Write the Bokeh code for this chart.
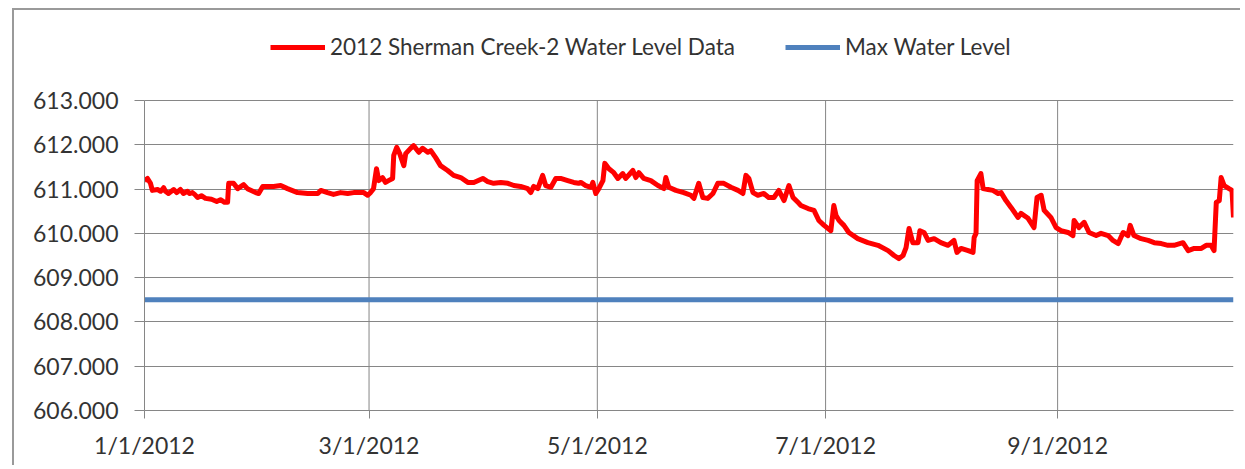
import pandas as pd
from bokeh.plotting import figure
from bokeh.models import FixedTicker, NumeralTickFormatter, Range1d, Legend, LegendItem
from bokeh.embed import file_html
from bokeh.resources import INLINE

# ---------------- data ----------------
START_DATE = "2012-01-01"

# days elapsed since START_DATE for each logged reading
day_offset = [
    0, 0.8, 1.6, 2.1, 3.5, 4.3, 5.1, 5.6, 6.4, 7.8, 8.6, 9.6, 10.4, 11.5, 12.0, 12.8, 13.4,
    14.2, 15.2, 16.3, 17.9, 19.3, 20.3, 21.4, 22.2, 22.5, 23.8, 24.9, 26.5, 27.5, 29.7, 30.5,
    31.6, 34.5, 36.4, 38.2, 40.9, 43.6, 46.3, 47.1, 48.9, 50.5, 52.4, 54.3, 55.9, 57.2, 58.6,
    59.6, 60.4, 61.2, 62.0, 62.6, 63.6, 64.4, 65.2, 66.3, 66.6, 67.4, 68.2, 69.3, 69.8, 71.1,
    71.9, 73.3, 74.3, 75.7, 76.5, 77.8, 79.1, 81.0, 82.6, 84.5, 86.4, 88.0, 90.4, 91.7, 93.3,
    95.2, 97.1, 98.7, 100.5, 102.4, 103.2, 104.0, 105.1, 106.4, 107.2, 108.6, 109.9, 111.2,
    113.1, 114.7, 116.0, 116.6, 117.9, 119.3, 119.8, 120.6, 121.4,
    122.5, 123.0, 124.1, 125.4, 126.5, 127.8, 128.6, 130.5, 131.3, 132.1, 133.4, 135.3, 137.2,
    138.8, 139.3, 140.1, 142.0, 144.1, 146.0, 146.8, 148.1, 149.2, 150.5, 151.9, 153.2, 154.8,
    156.7, 158.6, 159.9, 160.7, 161.5, 162.6, 163.9, 165.5, 166.8, 168.2, 169.5, 170.9, 172.2,
    173.3, 174.6,
    175.4, 177.3, 178.9, 180.2, 181.6, 183.4, 184.2, 184.8, 185.6, 186.9, 188.2, 190.6, 193.3,
    196.0, 198.7, 200.3, 201.6, 202.7, 203.5, 204.3, 205.3, 206.7, 207.2, 208.3, 209.4, 211.0,
    212.8, 214.7, 216.3, 217.1, 218.2, 220.1, 221.4, 221.7, 222.2, 222.5, 223.5, 224.1, 225.4,
    226.7, 228.1, 228.9, 230.2, 231.6, 233.4, 234.2, 236.1, 237.7, 238.5, 239.6, 240.4, 242.2,
    243.6,
    244.9, 246.8, 248.1, 248.4, 249.7, 251.1, 252.4, 254.3, 255.6, 257.5, 258.8, 260.2, 261.5,
    262.8, 263.4, 264.4, 266.3, 268.2, 269.8, 271.7, 273.5, 275.1, 277.5, 278.9, 280.5, 282.4,
    283.7, 285.0, 285.8, 286.4, 287.2, 287.7, 288.5, 289.8, 290.6, 291.0,
]

# 2012 Sherman Creek-2 water level readings
water_level = [
    611.19, 611.24, 611.13, 610.97, 610.99, 610.95, 611.03, 610.95, 610.90, 610.99, 610.92,
    610.99, 610.90, 610.95, 610.90, 610.92, 610.88, 610.81, 610.85, 610.79, 610.77, 610.72,
    610.76, 610.70, 610.70, 611.13, 611.13, 611.01, 611.10, 611.01, 610.92, 610.90, 611.06,
    611.06, 611.08, 611.01, 610.92, 610.90, 610.90, 610.97, 610.92, 610.88, 610.92, 610.90,
    610.92, 610.92, 610.92,
    610.86, 610.92, 611.01, 611.46, 611.19, 611.26, 611.15, 611.19, 611.24, 611.76, 611.94,
    611.80, 611.53, 611.80, 611.92, 611.98, 611.83, 611.92, 611.83, 611.87, 611.71, 611.53,
    611.42, 611.31, 611.26, 611.15, 611.15, 611.24, 611.17, 611.13, 611.15, 611.13, 611.08,
    611.06, 611.01, 610.92, 611.06, 611.01, 611.31, 611.08, 611.04, 611.24, 611.24, 611.19,
    611.15, 611.13, 611.15, 611.08, 611.04, 611.15, 610.90, 611.01,
    611.19, 611.58, 611.46, 611.37, 611.24, 611.35, 611.24, 611.42, 611.26, 611.37, 611.24,
    611.19, 611.08, 611.01, 611.26, 611.04, 610.97, 610.92, 610.86, 610.79, 611.13, 610.81,
    610.79, 610.90, 611.13, 611.13, 611.04, 610.97, 610.90, 611.31, 611.24, 610.92, 610.86,
    610.90, 610.81, 610.81, 610.97, 610.74, 611.08, 610.81, 610.70,
    610.63, 610.56, 610.52, 610.29, 610.18, 610.06, 610.63, 610.40, 610.29, 610.18, 610.02,
    609.88, 609.79, 609.73, 609.61, 609.50, 609.43, 609.50, 609.68, 610.11, 609.79, 609.79,
    610.06, 610.02, 609.84, 609.88, 609.79, 609.73, 609.84, 609.57, 609.66, 609.61, 609.57,
    609.91, 610.00, 611.19, 611.35, 611.01, 610.99, 610.97, 610.90, 610.92, 610.74, 610.58,
    610.36, 610.45, 610.34, 610.13, 610.81, 610.86, 610.52, 610.36, 610.13,
    610.06, 610.02, 609.95, 610.29, 610.13, 610.25, 610.02, 609.95, 610.00, 609.95, 609.84,
    609.77, 610.02, 609.95, 610.18, 609.95, 609.88, 609.84, 609.79, 609.77, 609.73, 609.73,
    609.79, 609.61, 609.66, 609.66, 609.73, 609.73, 609.61, 610.70, 610.74, 611.26, 611.08,
    611.01, 610.97, 610.36,
]

max_water_level = 608.5

series_names = ["2012 Sherman Creek-2 Water Level Data", "Max Water Level"]
x_tick_dates = ["2012-01-01", "2012-03-01", "2012-05-01", "2012-07-01", "2012-09-01"]
x_tick_labels = ["1/1/2012", "3/1/2012", "5/1/2012", "7/1/2012", "9/1/2012"]
y_ticks = [606, 607, 608, 609, 610, 611, 612, 613]

# ---------------- layout constants (pixels) ----------------
FIG_W, FIG_H = 1240, 465
BORDER_L, BORDER_R, BORDER_T, BORDER_B = 144, 7, 0, 55
PLOT_H = 310                        # height of the 606..613 value band
FRAME_H = FIG_H - BORDER_T - BORDER_B
y_span = (max(y_ticks) - min(y_ticks)) * FRAME_H / PLOT_H   # room above for the legend

# ---------------- build ----------------
start = pd.Timestamp(START_DATE)
dates = [start + pd.Timedelta(days=d) for d in day_offset]
tick_dt = [pd.Timestamp(d) for d in x_tick_dates]
tick_ms = [float(t.value // 10**6) for t in tick_dt]

FONT = "Lato"
FS = "23px"
TXT = "#333333"
GRID = "#868686"
EDGE = "#9a9a9a"

p = figure(
    width=FIG_W, height=FIG_H,
    x_axis_type="datetime",
    x_range=Range1d(dates[0], dates[-1]),
    y_range=Range1d(min(y_ticks), min(y_ticks) + y_span),
    output_backend="svg", toolbar_location=None,
    min_border_left=BORDER_L, min_border_right=BORDER_R,
    min_border_top=BORDER_T, min_border_bottom=BORDER_B,
    background_fill_alpha=0, border_fill_alpha=0,
)
p.outline_line_color = None
# chart-area edge (left and top) drawn behind the transparent canvas
p.styles = {
    "overflow": "hidden",
    "background-color": "white",
    "background-image": f"linear-gradient({EDGE}, {EDGE}), linear-gradient({EDGE}, {EDGE})",
    "background-repeat": "no-repeat, no-repeat",
    "background-position": "12px 8px, 12px 8px",
    "background-size": "2px 100%, 100% 2px",
}

# vertical grid lines limited to the value band
p.xgrid.visible = False
p.segment(x0=tick_dt, y0=[min(y_ticks)] * len(tick_dt), x1=tick_dt, y1=[max(y_ticks)] * len(tick_dt),
          line_color=GRID, line_width=1)

blue = p.line([dates[0], dates[-1]], [max_water_level, max_water_level],
              line_color="#4F81BD", line_width=5)
red = p.line(dates, water_level, line_color="#FF0000", line_width=5, line_join="round")

# axes
p.xaxis.ticker = FixedTicker(ticks=tick_ms)
p.xaxis.major_label_overrides = dict(zip(tick_ms, x_tick_labels))
p.yaxis.ticker = FixedTicker(ticks=y_ticks)
p.yaxis.formatter = NumeralTickFormatter(format="0.000")
p.yaxis.bounds = (min(y_ticks), max(y_ticks))

for ax in (p.xaxis, p.yaxis):
    ax.axis_line_color = GRID
    ax.major_tick_line_color = GRID
    ax.minor_tick_line_color = None
    ax.major_tick_in = 0
    ax.major_label_text_font = FONT
    ax.major_label_text_font_size = FS
    ax.major_label_text_color = TXT
p.yaxis.major_tick_out = 10
p.yaxis.major_label_standoff = 16
p.xaxis.major_tick_out = 8
p.xaxis.major_label_standoff = 12

p.ygrid.ticker = FixedTicker(ticks=y_ticks)
p.ygrid.grid_line_color = GRID
p.ygrid.grid_line_width = 1

legend = Legend(
    items=[LegendItem(label=series_names[0], renderers=[red]),
           LegendItem(label=series_names[1], renderers=[blue])],
    orientation="horizontal", location=(126, 350),
    glyph_width=55, glyph_height=20, label_standoff=5, spacing=50,
    padding=0, margin=0, border_line_color=None, background_fill_alpha=0,
    label_text_font=FONT, label_text_font_size="22.5px", label_text_color=TXT,
)
p.add_layout(legend)

open("out.html", "w").write(file_html(p, INLINE))
